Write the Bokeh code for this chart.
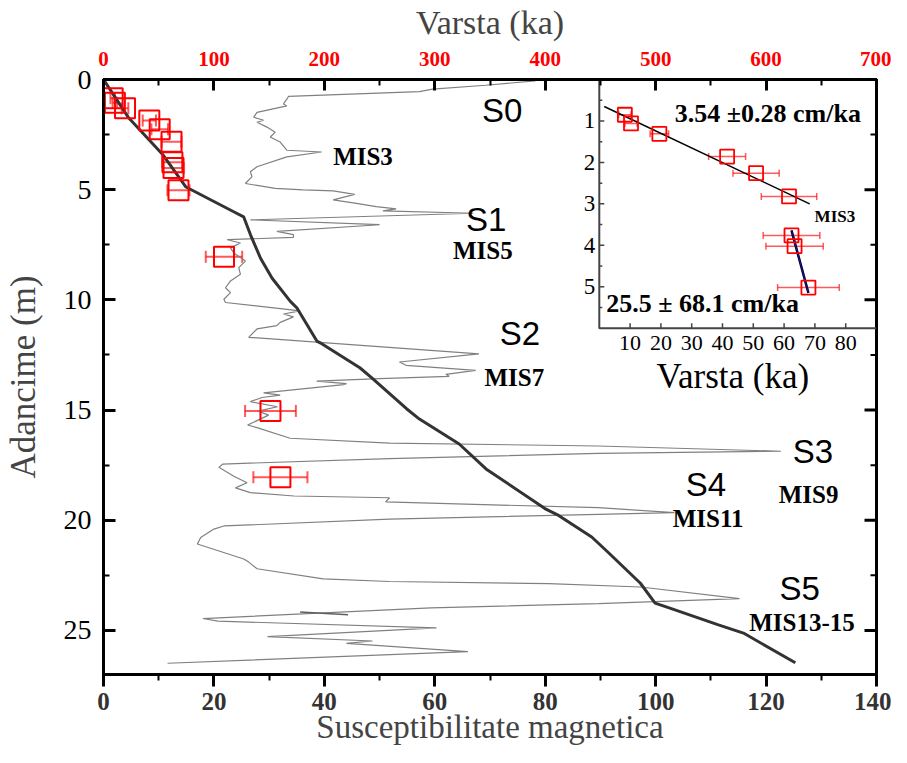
from bokeh.plotting import figure
from bokeh.models import Range1d, LinearAxis, FixedTicker, ColumnDataSource, Whisker, TeeHead
from bokeh.core.properties import value
from bokeh.embed import file_html
from bokeh.resources import INLINE

# ---------------- data ----------------
# magnetic susceptibility profile vs depth (m)
SUS = [78.2, 69.2, 59.6, 57.2, 33.5, 33.2, 32.6, 33.2, 27.8, 27.2, 29.0, 27.8, 29.6, 31.1, 30.2,
       32.0, 33.2, 39.5, 33.2, 27.8, 26.6, 26.9, 25.7, 31.1, 36.2, 41.6, 45.5, 41.6, 45.8, 49.4,
       53.0, 50.6, 67.0, 26.6, 50.0, 31.4, 34.4, 34.4, 22.4, 24.8, 23.0, 23.6, 25.7, 24.5, 24.8,
       23.0, 22.1, 23.0, 21.8, 22.1, 35.6, 32.6, 34.4, 32.0, 31.4, 27.8, 26.3, 68.0, 53.6, 54.8,
       67.4, 62.0, 62.6, 50.0, 38.6, 44.0, 43.5, 29.0, 32.0, 28.7, 26.6, 31.5, 28.0, 29.9, 26.1,
       27.8, 33.8, 51.8, 89.6, 122.7, 89.6, 51.8, 21.6, 20.9, 23.6, 26.0, 23.9, 26.6, 34.5, 51.8,
       51.1, 89.6, 103.4, 89.6, 51.8, 21.8, 20.0, 17.6, 17.0, 25.4, 26.3, 27.8, 39.8, 51.8, 80.6,
       97.3, 115.2, 89.6, 59.3, 18.0, 20.7, 60.3, 29.7, 48.7, 44.0, 66.0, 11.6]
SUS_DEPTH = [0.06, 0.26, 0.44, 0.55, 0.77, 0.89, 1.11, 1.20, 1.49, 1.71, 1.85, 1.94, 2.16, 2.39, 2.61,
             2.84, 3.21, 3.29, 3.51, 3.96, 4.19, 4.41, 4.72, 4.94, 5.01, 5.05, 5.21, 5.46, 5.62, 5.77,
             5.87, 5.96, 6.07, 6.37, 6.59, 6.89, 7.04, 7.16, 7.27, 7.42, 7.64, 7.87, 8.24, 8.54, 8.84,
             9.14, 9.45, 9.67, 9.97, 10.12, 10.50, 10.64, 10.77, 11.02, 11.17, 11.32, 11.70, 12.45, 12.82, 12.97,
             13.20, 13.38, 13.47, 13.57, 13.69, 13.80, 13.85, 14.22, 14.32, 14.43, 14.62, 14.85, 15.05, 15.23, 15.68,
             15.80, 16.28, 16.50, 16.63, 16.87, 16.97, 17.20, 17.45, 17.60, 18.00, 18.30, 18.53, 18.75, 18.90, 18.98,
             19.17, 19.43, 19.65, 19.73, 19.95, 20.26, 20.40, 20.78, 21.08, 21.76, 21.90, 22.20, 22.66, 22.78, 22.88,
             23.03, 23.56, 23.78, 23.98, 24.46, 24.58, 24.88, 25.28, 25.48, 25.59, 25.96, 26.49]
SUS_SHORT = [35.6, 44.3]
SUS_SHORT_DEPTH = [24.16, 24.29]

# age-depth model (ka vs m)
MODEL_AGE = [0.0, 22.5, 54.0, 74.7, 117.9, 126.9, 133.2, 142.2, 152.7, 169.2, 175.2, 193.2, 196.2,
             232.1, 242.7, 274.4, 286.1, 322.1, 346.4, 399.7, 412.1, 442.1, 456.4, 486.2, 499.5,
             512.9, 556.2, 579.5, 626.5]
MODEL_DEPTH = [0.0, 1.72, 3.43, 4.88, 6.00, 6.23, 7.06, 8.11, 9.02, 10.07, 10.37, 11.87, 11.95,
               13.08, 13.53, 14.94, 15.41, 16.54, 17.67, 19.47, 19.78, 20.76, 21.43, 22.86, 23.76,
               23.99, 24.74, 25.12, 26.47]

# OSL ages (ka), errors (ka), depths (m)
OSL_AGE = [8.3, 10.3, 19.5, 41.5, 50.9, 61.6, 62.4, 63.4, 67.9, 109.1, 151.2, 160.2]
OSL_ERR = [2.0, 2.0, 3.0, 6.0, 7.5, 9.0, 9.2, 9.3, 10.0, 16.5, 23.0, 24.5]
OSL_DEPTH = [0.85, 1.06, 1.31, 1.86, 2.26, 2.82, 3.76, 4.02, 5.02, 8.04, 15.04, 18.05]
N_INSET = 9

# sedimentation-rate fits (inset)
FIT1_AGE = [1.6, 68.3]
FIT1_DEPTH = [0.65, 3.0]
FIT2_AGE = [62.4, 67.9]
FIT2_DEPTH = [3.64, 5.15]

SUS_TICKS = [0, 20, 40, 60, 80, 100, 120, 140]
DEPTH_TICKS = [0, 5, 10, 15, 20, 25]
AGE_TICKS = [0, 100, 200, 300, 400, 500, 600, 700]
INS_AGE_TICKS = [10, 20, 30, 40, 50, 60, 70, 80]
INS_DEPTH_TICKS = [1, 2, 3, 4, 5]

S_LABELS = ["S0", "S1", "S2", "S3", "S4", "S5"]
S_SUS = [72.2, 69.3, 75.4, 128.5, 109.1, 126.1]
S_DEPTH = [1.40, 6.37, 11.54, 16.89, 18.38, 23.12]
MIS_LABELS = ["MIS3", "MIS5", "MIS7", "MIS9", "MIS11", "MIS13-15"]
MIS_SUS = [47.0, 68.7, 74.4, 127.7, 109.5, 126.5]
MIS_DEPTH = [3.48, 7.77, 13.5, 18.85, 19.94, 24.63]

# ---------------- layout ----------------
W, H = 891, 747
ML, MR, MT, MB = 102, 15, 77, 72
FW, FH = W - ML - MR, H - MT - MB
SUS_MAX, DEPTH_MAX = 140, 27
INSET_FX = 499 / 778.0      # inset left edge as fraction of frame width
INSET_FY = 250 / 598.0      # inset bottom edge as fraction of frame height
INS_AGE_MAX = 90
INS_DEPTH_MAX = 6
PX_PER_SUS = FW / SUS_MAX
PX_PER_IAGE = FW * (1 - INSET_FX) / INS_AGE_MAX
PX_PER_IDEPTH = FH * INSET_FY / INS_DEPTH_MAX

SERIF = "Liberation Serif"
SANS = "Liberation Sans"

p = figure(width=W, height=H, x_range=Range1d(0, SUS_MAX), y_range=Range1d(DEPTH_MAX, 0),
           output_backend="svg", toolbar_location=None,
           min_border_left=ML, min_border_right=MR, min_border_top=MT, min_border_bottom=MB)
p.extra_x_ranges = {
    "age": Range1d(0, 700),
    "ins_x": Range1d(-INS_AGE_MAX * INSET_FX / (1 - INSET_FX), INS_AGE_MAX),
}
p.extra_y_ranges = {"ins_y": Range1d(INS_DEPTH_MAX / INSET_FY, 0)}
p.xgrid.visible = False
p.ygrid.visible = False
p.outline_line_color = "black"
p.outline_line_width = 3
p.background_fill_color = "white"
p.border_fill_color = "white"


def style_axis(ax, major_in, major_out, minor_in, minor_out):
    ax.axis_line_width = 3
    ax.axis_line_color = "black"
    ax.major_tick_line_width = 3
    ax.minor_tick_line_width = 2
    ax.major_tick_in = major_in
    ax.major_tick_out = major_out
    ax.minor_tick_in = minor_in
    ax.minor_tick_out = minor_out


# bottom axis (susceptibility)
bx = p.xaxis[0]
bx.ticker = FixedTicker(ticks=SUS_TICKS, minor_ticks=[t + 10 for t in SUS_TICKS[:-1]])
style_axis(bx, 0, 12, 0, 6)
bx.major_label_text_font = SERIF
bx.major_label_text_font_style = "bold"
bx.major_label_text_font_size = "25px"
bx.major_label_text_color = "#333333"
bx.major_label_standoff = 6
bx.axis_label = "Susceptibilitate magnetica"
bx.axis_label_text_font = SERIF
bx.axis_label_text_font_style = "normal"
bx.axis_label_text_font_size = "33px"
bx.axis_label_standoff = -4

# left axis (depth)
ly = p.yaxis[0]
ly.ticker = FixedTicker(ticks=DEPTH_TICKS, minor_ticks=[t + 2.5 for t in DEPTH_TICKS])
style_axis(ly, 12, 0, 6, 0)
ly.major_label_text_font = SERIF
ly.major_label_text_font_size = "28px"
ly.major_label_text_color = "black"
ly.major_label_standoff = 12
ly.axis_label = "Adancime (m)"
ly.axis_label_text_font = SERIF
ly.axis_label_text_font_style = "normal"
ly.axis_label_text_font_size = "35px"
ly.axis_label_standoff = 18

# top axis (age)
tx = LinearAxis(x_range_name="age",
                ticker=FixedTicker(ticks=AGE_TICKS, minor_ticks=[t + 50 for t in AGE_TICKS[:-1]]))
style_axis(tx, 11, 0, 6, 0)
tx.major_label_text_font = SERIF
tx.major_label_text_font_style = "bold"
tx.major_label_text_font_size = "21px"
tx.major_label_text_color = "red"
tx.major_label_standoff = 14
tx.axis_label = "Varsta (ka)"
tx.axis_label_text_font = SERIF
tx.axis_label_text_font_style = "normal"
tx.axis_label_text_font_size = "34px"
tx.axis_label_standoff = 8
p.add_layout(tx, "above")

# right-hand frame ticks (mirroring the depth axis, no labels)
r_minor = [t + 2.5 for t in DEPTH_TICKS]
p.segment(x0=[SUS_MAX] * len(DEPTH_TICKS), x1=[SUS_MAX - 12 / PX_PER_SUS] * len(DEPTH_TICKS),
          y0=DEPTH_TICKS, y1=DEPTH_TICKS, line_color="black", line_width=3)
p.segment(x0=[SUS_MAX] * len(r_minor), x1=[SUS_MAX - 6 / PX_PER_SUS] * len(r_minor),
          y0=r_minor, y1=r_minor, line_color="black", line_width=2)

# ---------------- main plot ----------------
p.line(SUS, SUS_DEPTH, line_color="#808080", line_width=1.2)
p.line(SUS_SHORT, SUS_SHORT_DEPTH, line_color="#606060", line_width=1.5)
p.line(MODEL_AGE, MODEL_DEPTH, line_color="#333333", line_width=3, x_range_name="age")

osl = ColumnDataSource(dict(
    age=OSL_AGE, depth=OSL_DEPTH,
    lo=[a - e for a, e in zip(OSL_AGE, OSL_ERR)],
    hi=[a + e for a, e in zip(OSL_AGE, OSL_ERR)]))
p.add_layout(Whisker(source=osl, base="depth", lower="lo", upper="hi", dimension="width",
                     x_range_name="age", line_color="red", line_alpha=0.65, line_width=2,
                     upper_head=TeeHead(size=12, line_color="red", line_alpha=0.65, line_width=2),
                     lower_head=TeeHead(size=12, line_color="red", line_alpha=0.65, line_width=2)))
p.scatter("age", "depth", source=osl, marker="square", size=20, fill_color=None,
          line_color="red", line_width=2, x_range_name="age")

p.text(S_SUS, S_DEPTH, text=S_LABELS, text_font=value(SANS), text_font_size="33px",
       text_align="center", text_baseline="middle", text_color="black")
p.text(MIS_SUS, MIS_DEPTH, text=MIS_LABELS, text_font=value(SERIF), text_font_style="bold",
       text_font_size="25px", text_align="center", text_baseline="middle", text_color="black")

# ---------------- inset ----------------
IX, IY = "ins_x", "ins_y"
p.line([0, 0, INS_AGE_MAX], [0, INS_DEPTH_MAX, INS_DEPTH_MAX], line_color="#444444", line_width=2,
       x_range_name=IX, y_range_name=IY)
minor_d = [d - 0.5 for d in INS_DEPTH_TICKS] + [INS_DEPTH_TICKS[-1] + 0.5]
p.segment(x0=[0] * len(INS_DEPTH_TICKS), x1=[5 / PX_PER_IAGE] * len(INS_DEPTH_TICKS),
          y0=INS_DEPTH_TICKS, y1=INS_DEPTH_TICKS, line_color="#444444", line_width=1.5,
          x_range_name=IX, y_range_name=IY)
p.segment(x0=[0] * len(minor_d), x1=[3 / PX_PER_IAGE] * len(minor_d),
          y0=minor_d, y1=minor_d, line_color="#444444", line_width=1.5,
          x_range_name=IX, y_range_name=IY)
p.segment(x0=INS_AGE_TICKS, x1=INS_AGE_TICKS,
          y0=[INS_DEPTH_MAX] * len(INS_AGE_TICKS),
          y1=[INS_DEPTH_MAX - 5 / PX_PER_IDEPTH] * len(INS_AGE_TICKS),
          line_color="#444444", line_width=1.5, x_range_name=IX, y_range_name=IY)
p.text([0] * len(INS_DEPTH_TICKS), INS_DEPTH_TICKS, text=[str(t) for t in INS_DEPTH_TICKS],
       x_offset=-4, text_font=value(SERIF), text_font_size="23px", text_align="right",
       text_baseline="middle", x_range_name=IX, y_range_name=IY)
p.text(INS_AGE_TICKS, [INS_DEPTH_MAX] * len(INS_AGE_TICKS), text=[str(t) for t in INS_AGE_TICKS],
       y_offset=15, text_font=value(SERIF), text_font_size="22px", text_align="center",
       text_baseline="middle", x_range_name=IX, y_range_name=IY)
p.text([INS_AGE_MAX / 2], [INS_DEPTH_MAX], text=["Varsta (ka)"], x_offset=-5, y_offset=48,
       text_font=value(SERIF), text_font_size="35px", text_align="center",
       text_baseline="middle", x_range_name=IX, y_range_name=IY)

p.line(FIT1_AGE, FIT1_DEPTH, line_color="black", line_width=1.5, x_range_name=IX, y_range_name=IY)
p.line(FIT2_AGE, FIT2_DEPTH, line_color="black", line_width=2.5, x_range_name=IX, y_range_name=IY)
p.line(FIT2_AGE, FIT2_DEPTH, line_color="#1010a0", line_width=1.2, x_range_name=IX, y_range_name=IY)

ins = ColumnDataSource(dict(
    age=OSL_AGE[:N_INSET], depth=OSL_DEPTH[:N_INSET],
    lo=[a - e for a, e in zip(OSL_AGE[:N_INSET], OSL_ERR[:N_INSET])],
    hi=[a + e for a, e in zip(OSL_AGE[:N_INSET], OSL_ERR[:N_INSET])]))
p.add_layout(Whisker(source=ins, base="depth", lower="lo", upper="hi", dimension="width",
                     x_range_name=IX, y_range_name=IY, line_color="red", line_alpha=0.65, line_width=1.5,
                     upper_head=TeeHead(size=7, line_color="red", line_alpha=0.65, line_width=1.5),
                     lower_head=TeeHead(size=7, line_color="red", line_alpha=0.65, line_width=1.5)))
p.scatter("age", "depth", source=ins, marker="square", size=14, fill_color=None,
          line_color="red", line_width=1.8, x_range_name=IX, y_range_name=IY)

p.text([24.5, 2.26], [0.82, 5.4], text=["3.54 \u00b10.28 cm/ka", "25.5 \u00b1 68.1 cm/ka"],
       text_font=value(SERIF), text_font_style="bold", text_font_size="26px",
       text_align="left", text_baseline="middle", x_range_name=IX, y_range_name=IY)
p.text([76.5], [3.31], text=["MIS3"], text_font=value(SERIF), text_font_style="bold",
       text_font_size="17px", text_align="center", text_baseline="middle",
       x_range_name=IX, y_range_name=IY)

open("out.html", "w").write(file_html(p, INLINE))
